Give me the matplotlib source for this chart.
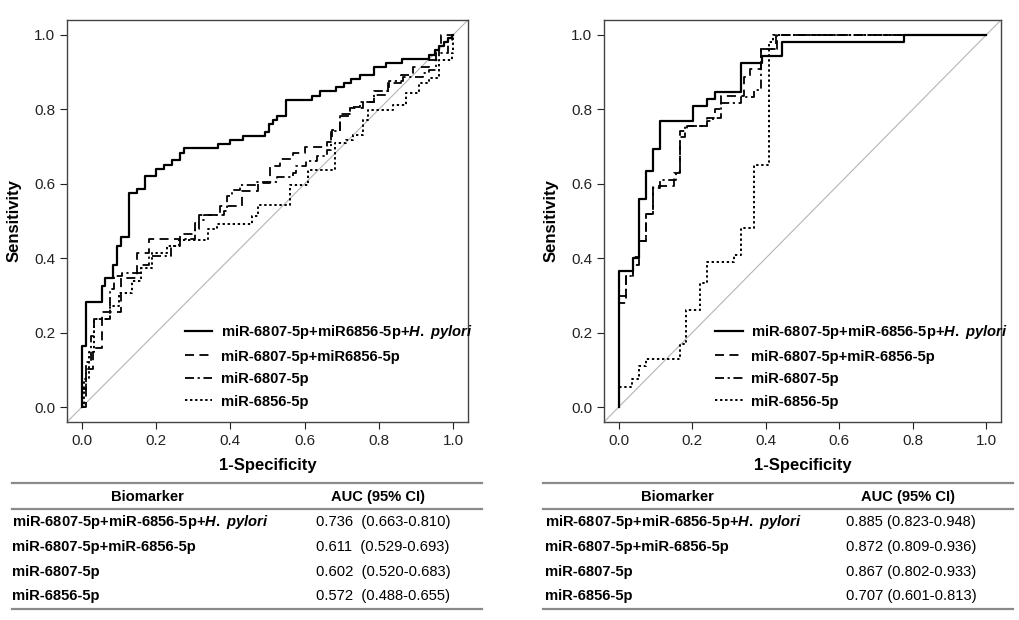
import matplotlib
matplotlib.use("Agg")
import matplotlib.pyplot as plt
from matplotlib.lines import Line2D

plt.rcParams['font.family'] = ['Liberation Sans', 'DejaVu Sans']
plt.rcParams['mathtext.fontset'] = 'custom'
plt.rcParams['mathtext.it'] = 'Liberation Sans:italic:bold'
plt.rcParams['mathtext.rm'] = 'Liberation Sans:bold'

# ---- left panel ROC points (1-specificity, sensitivity) ----
left_comb3_x = [0, 0, 0.011, 0.053, 0.063, 0.085, 0.096, 0.105, 0.127, 0.148, 0.169, 0.201, 0.222, 0.243,
                0.264, 0.274, 0.368, 0.400, 0.433, 0.494, 0.505, 0.516, 0.526, 0.549, 0.620, 0.641, 0.684,
                0.705, 0.726, 0.748, 0.788, 0.819, 0.862, 0.936, 0.952, 0.962, 0.976, 0.985, 0.998, 1.0]
left_comb3_y = [0, 0.164, 0.282, 0.325, 0.348, 0.381, 0.434, 0.458, 0.576, 0.587, 0.620, 0.641, 0.651, 0.663,
                0.683, 0.696, 0.707, 0.717, 0.728, 0.739, 0.761, 0.772, 0.783, 0.826, 0.836, 0.848, 0.859,
                0.871, 0.881, 0.891, 0.913, 0.924, 0.935, 0.946, 0.960, 0.969, 0.980, 0.991, 1.0, 1.0]

left_comb2_x = [0, 0.011, 0.029, 0.053, 0.105, 0.149, 0.181, 0.265, 0.306, 0.315, 0.373, 0.431, 0.475, 0.507,
                0.534, 0.569, 0.601, 0.659, 0.675, 0.694, 0.721, 0.757, 0.788, 0.824, 0.860, 0.891, 0.936,
                0.962, 0.967, 1.0]
left_comb2_y = [0, 0.102, 0.160, 0.256, 0.348, 0.415, 0.452, 0.464, 0.495, 0.517, 0.540, 0.580, 0.602, 0.647,
                0.667, 0.683, 0.700, 0.711, 0.745, 0.781, 0.803, 0.821, 0.839, 0.872, 0.893, 0.915, 0.933,
                0.969, 1.0, 1.0]

left_6807_x = [0, 0, 0.011, 0.024, 0.033, 0.076, 0.087, 0.109, 0.158, 0.181, 0.239, 0.265, 0.306, 0.315,
               0.328, 0.382, 0.391, 0.404, 0.426, 0.471, 0.525, 0.569, 0.578, 0.605, 0.632, 0.659, 0.672,
               0.694, 0.721, 0.748, 0.788, 0.828, 0.864, 0.918, 0.936, 0.954, 0.985, 0.998, 1.0]
left_6807_y = [0, 0.048, 0.120, 0.191, 0.236, 0.316, 0.352, 0.361, 0.383, 0.406, 0.433, 0.452, 0.479, 0.504,
               0.517, 0.526, 0.567, 0.584, 0.596, 0.605, 0.618, 0.629, 0.647, 0.660, 0.674, 0.692, 0.741,
               0.788, 0.806, 0.821, 0.848, 0.875, 0.888, 0.897, 0.906, 0.951, 0.987, 1.0, 1.0]

left_6856_x = [0, 0.006, 0.020, 0.033, 0.076, 0.100, 0.136, 0.158, 0.189, 0.230, 0.261, 0.339, 0.364, 0.458,
               0.475, 0.560, 0.609, 0.681, 0.712, 0.730, 0.757, 0.770, 0.837, 0.873, 0.909, 0.936, 0.962,
               0.998, 1.0]
left_6856_y = [0, 0.075, 0.147, 0.236, 0.272, 0.307, 0.339, 0.374, 0.415, 0.433, 0.450, 0.479, 0.491, 0.513,
               0.544, 0.598, 0.638, 0.710, 0.718, 0.732, 0.772, 0.799, 0.812, 0.844, 0.870, 0.884, 0.933,
               0.951, 1.0]

# ---- right panel ROC points ----
right_comb3_x = [0, 0, 0.038, 0.056, 0.074, 0.092, 0.113, 0.202, 0.241, 0.262, 0.332, 0.390, 0.443, 0.777, 1.0]
right_comb3_y = [0, 0.367, 0.401, 0.558, 0.635, 0.693, 0.770, 0.808, 0.828, 0.847, 0.924, 0.943, 0.980, 1.0, 1.0]

right_comb2_x = [0, 0, 0.020, 0.038, 0.056, 0.074, 0.092, 0.150, 0.168, 0.186, 0.240, 0.262, 0.278, 0.342,
                 0.356, 0.387, 0.427, 1.0]
right_comb2_y = [0, 0.280, 0.352, 0.383, 0.446, 0.520, 0.593, 0.629, 0.741, 0.756, 0.778, 0.800, 0.835, 0.888,
                 0.908, 0.962, 1.0, 1.0]

right_6807_x = [0, 0, 0.019, 0.038, 0.056, 0.074, 0.092, 0.113, 0.155, 0.168, 0.181, 0.240, 0.257, 0.278,
                0.332, 0.369, 0.387, 0.430, 1.0]
right_6807_y = [0, 0.298, 0.352, 0.404, 0.446, 0.520, 0.590, 0.611, 0.631, 0.726, 0.756, 0.770, 0.778, 0.817,
                0.833, 0.852, 0.962, 1.0, 1.0]

right_6856_x = [0, 0, 0.037, 0.055, 0.074, 0.166, 0.184, 0.222, 0.240, 0.315, 0.333, 0.369, 0.409, 0.420, 1.0]
right_6856_y = [0, 0.055, 0.075, 0.111, 0.129, 0.169, 0.260, 0.334, 0.390, 0.410, 0.482, 0.650, 0.982, 1.0, 1.0]

left_labels = ["miR-6807-5p+miR6856-5p+$\\mathit{H.\\ pylori}$", "miR-6807-5p+miR6856-5p",
               "miR-6807-5p", "miR-6856-5p"]
right_labels = ["miR-6807-5p+miR-6856-5p+$\\mathit{H.\\ pylori}$", "miR-6807-5p+miR-6856-5p",
                "miR-6807-5p", "miR-6856-5p"]

table_names = ["miR-6807-5p+miR-6856-5p+$\\mathit{H.\\ pylori}$", "miR-6807-5p+miR-6856-5p",
               "miR-6807-5p", "miR-6856-5p"]
left_auc = ["0.736  (0.663-0.810)", "0.611  (0.529-0.693)", "0.602  (0.520-0.683)", "0.572  (0.488-0.655)"]
right_auc = ["0.885 (0.823-0.948)", "0.872 (0.809-0.936)", "0.867 (0.802-0.933)", "0.707 (0.601-0.813)"]

styles = [dict(ls='-', lw=1.6),
          dict(ls=(0, (5, 3)), lw=1.3),
          dict(ls=(0, (5, 2, 1.2, 2)), lw=1.3),
          dict(ls=(0, (1.2, 1.4)), lw=1.4)]

W, H = 1020, 620


def draw_roc(ax, curves, labels, leg_x):
    ax.axline((0, 0), (1, 1), color='#b5b5b5', lw=0.8, zorder=1)
    handles = []
    for (x, y), st, lab in zip(curves, styles, labels):
        h, = ax.plot(x, y, drawstyle='steps-post', color='black', label=lab, zorder=3, **st)
        handles.append(h)
    ax.set_xlim(-0.04, 1.04)
    ax.set_ylim(-0.04, 1.04)
    ticks = [0, 0.2, 0.4, 0.6, 0.8, 1.0]
    ax.set_xticks(ticks)
    ax.set_yticks(ticks)
    ax.set_xticklabels(["%.1f" % t for t in ticks])
    ax.set_yticklabels(["%.1f" % t for t in ticks])
    ax.tick_params(direction='out', length=5, width=0.8, labelsize=11, colors='#222222')
    for s in ax.spines.values():
        s.set_color('#444444')
        s.set_linewidth(1.0)
    ax.set_xlabel("1-Specificity", fontsize=12, fontweight='bold', labelpad=7)
    ax.set_ylabel("Sensitivity", fontsize=12, fontweight='bold', labelpad=9)
    ax.legend(handles=handles, loc='lower left', bbox_to_anchor=(leg_x, 0.015), frameon=False,
              borderpad=0, handlelength=1.85, handletextpad=0.6, labelspacing=0.58,
              prop=dict(size=10.6, weight='bold'))


def draw_table(fig, x0, x1, name_x, auc_x, head1_x, head2_x, aucs):
    fx = lambda p: p / W
    fy = lambda p: 1 - p / H
    for yy in [483, 509, 609]:
        fig.add_artist(Line2D([fx(x0), fx(x1)], [fy(yy), fy(yy)], color='#8a8a8a', lw=1.6))
    fig.text(fx(head1_x), fy(497), "Biomarker", ha='center', va='center', fontsize=10.6, fontweight='bold')
    fig.text(fx(head2_x), fy(497), "AUC (95% CI)", ha='center', va='center', fontsize=10.6, fontweight='bold')
    rows_y = [522, 547, 572, 596]
    for name, auc, yy in zip(table_names, aucs, rows_y):
        fig.text(fx(name_x), fy(yy), name, ha='left', va='center', fontsize=10.6, fontweight='bold')
        fig.text(fx(auc_x), fy(yy), auc, ha='left', va='center', fontsize=10.6)


fig = plt.figure(figsize=(10.2, 6.2), dpi=100)
ax1 = fig.add_axes([67 / W, 1 - 422 / H, 401 / W, 402 / H])
ax2 = fig.add_axes([604 / W, 1 - 422 / H, 397 / W, 402 / H])

draw_roc(ax1, [(left_comb3_x, left_comb3_y), (left_comb2_x, left_comb2_y),
               (left_6807_x, left_6807_y), (left_6856_x, left_6856_y)], left_labels, 0.275)
draw_roc(ax2, [(right_comb3_x, right_comb3_y), (right_comb2_x, right_comb2_y),
               (right_6807_x, right_6807_y), (right_6856_x, right_6856_y)], right_labels, 0.262)

draw_table(fig, 12, 482, 12, 316, 147, 378, left_auc)
draw_table(fig, 543, 1013, 545, 846, 677, 908, right_auc)

fig.savefig("out.png", dpi=100)
